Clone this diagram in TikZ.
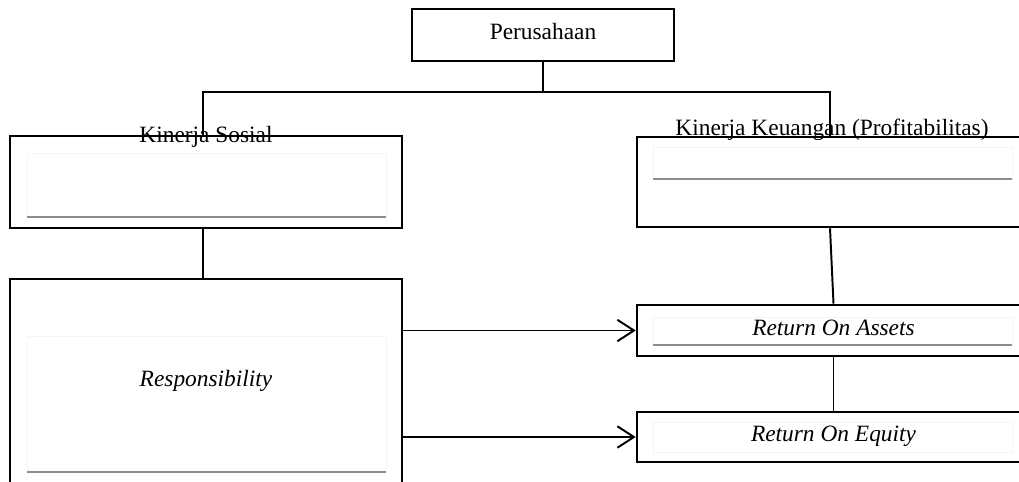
\documentclass[tikz,border=0pt]{standalone}
\usepackage{fontspec}
\setmainfont{Liberation Serif}
\usetikzlibrary{arrows.meta, positioning}

\begin{document}
\begin{tikzpicture}[x=0.513pt, y=-0.513pt,
    font=\fontsize{12}{14}\selectfont,
    box/.style 2 args={draw=black, line width=1.3pt, minimum width=#1*0.513pt,
        minimum height=#2*0.513pt, inner sep=0pt, text height=9.5pt, text depth=4.5pt},
    heading/.style={anchor=base, inner sep=0pt},
    link/.style={line width=1pt},
    arr/.style={line width=1pt, -{Straight Barb[length=8.5pt, width=11pt]}},
    frame/.style={draw=black!4, line width=0.5pt},
    rule/.style={draw=black!45, line width=0.7pt}]
    \useasboundingbox (0,0) rectangle (1019,482);
    \clip (0,0) rectangle (1019,482);

    % boxes
    \node[box={262}{52}] (perusahaan) at (543,35) {Perusahaan};
    \node[box={392}{92}] (sosial) at (206,182) {};
    \node[box={393}{90}] (keuangan) at (833.5,182) {};
    \node[box={392}{206}] (resp) at (206,382) {\textit{Responsibility}};
    \node[box={393}{51}] (roa) at (833.5,330.5) {\textit{Return On Assets}};
    \node[box={393}{50}] (roe) at (833.5,437) {\textit{Return On Equity}};

    % inner text frames
    \draw[frame] (27,153) rectangle (386,217);
    \draw[rule] (27,217) -- (386,217);
    \draw[frame] (653,147) rectangle (1012,179);
    \draw[rule] (653,179) -- (1012,179);
    \draw[frame] (27,336) rectangle (386,472);
    \draw[rule] (27,472) -- (386,472);
    \draw[frame] (653,317) rectangle (1012,345);
    \draw[rule] (653,345) -- (1012,345);
    \draw[frame] (653,422) rectangle (1012,452);

    % headings over the top borders
    \node[heading] (tsosial) at (206,143) {Kinerja Sosial};
    \node[heading] (tkeuangan) at (832,136) {Kinerja Keuangan (Profitabilitas)};

    % tree lines
    \coordinate (busL) at (203,92);
    \coordinate (busR) at (830,92);
    \draw[link] (perusahaan.south) -- (perusahaan.south |- busL);
    \draw[link] (busL |- sosial.north) -- (busL) -- (busR) -- (busR |- keuangan.north);
    \draw[link] (busL |- sosial.south) -- (busL |- resp.north);
    \draw[link] (busR |- keuangan.south) -- (roa.north);
    \draw[link] (roa.south) -- (roe.north);

    % arrows
    \draw[arr] (resp.east |- roa.west) -- (roa.west);
    \draw[arr] (resp.east |- roe.west) -- (roe.west);
\end{tikzpicture}
\end{document}
